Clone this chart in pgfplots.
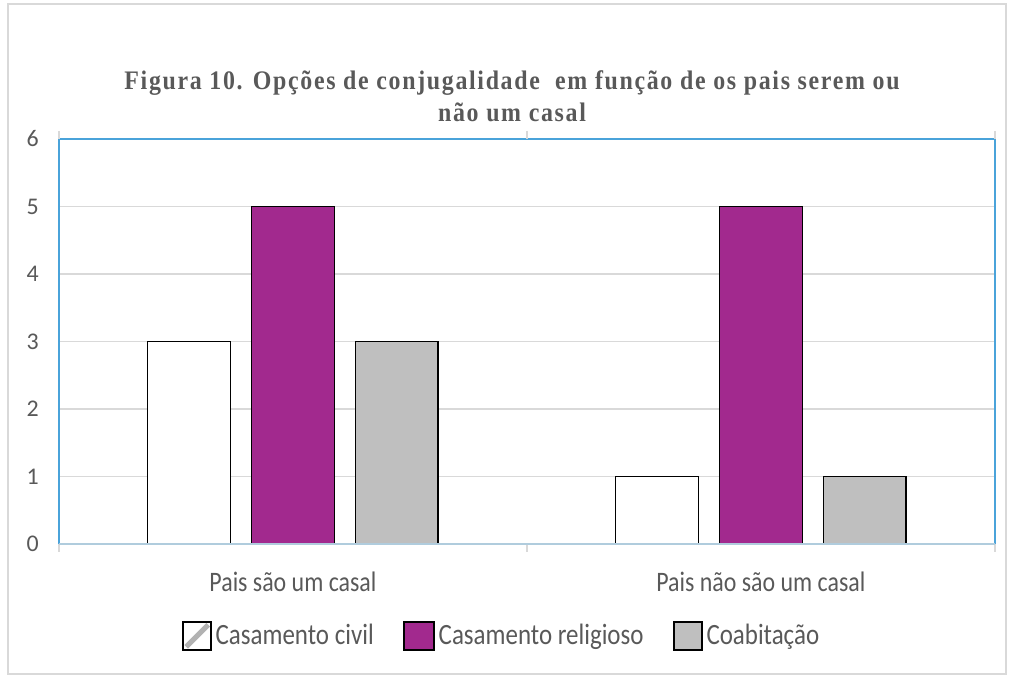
\documentclass[border=0pt]{standalone}
\usepackage{fontspec}
\setmainfont{Carlito}
\newfontfamily\titlefont{Liberation Serif}[LetterSpace=7]
\usepackage{pgfplots}
\pgfplotsset{compat=1.18}
\definecolor{txt}{HTML}{595959}
\definecolor{purp}{HTML}{A2298E}
\definecolor{gry}{HTML}{BFBFBF}
\definecolor{gridc}{HTML}{D9D9D9}
\definecolor{frameblue}{HTML}{4AA3DA}
\definecolor{baseblue}{HTML}{B0CCDD}
\newcommand{\vs}[1]{\scalebox{1}[1.18]{#1}}
\begin{document}
\begin{tikzpicture}
\begin{axis}[
  scale only axis,
  width=18.72cm, height=8.1cm,
  xmin=-0.5, xmax=1.5, ymin=0, ymax=6,
  ytick={0,1,2,3,4,5,6},
  ymajorgrids, grid style={draw=gridc, line width=0.8pt},
  xtick={0,1},
  xticklabels={\vs{Pais são um casal}, \vs{Pais não são um casal}},
  major tick length=0pt,
  extra x ticks={-0.5,0.5,1.5},
  extra x tick labels={},
  extra x tick style={major tick length=0.16cm, tick align=outside, tick style={draw=gridc, line width=0.8pt}, grid=none},
  axis line style={draw=frameblue, line width=0.9pt},
  /pgf/number format/assume math mode=true,
  tick label style={font=\fontsize{13.6}{16}\selectfont, text=txt},
  xticklabel style={anchor=center, yshift=-0.76cm},
  yticklabel style={xshift=-0.28cm},
  bar width=0.177,
  legend columns=3,
  legend style={draw=none, fill=none, at={(0.4739,-0.227)}, anchor=center,
    font=\fontsize{14.2}{16}\selectfont, text=txt,
    nodes={inner xsep=2pt},
    /tikz/every even column/.append style={column sep=0.52cm}},
  legend cell align=left,
]
\addplot[ybar, bar shift=-0.222, fill=white, draw=black, line width=0.85pt,
  legend image code/.code={\draw[black, line width=1.1pt, fill=white] (0cm,-0.28cm) rectangle (0.56cm,0.28cm);
  \draw[gray!60, line width=3pt] (0.06cm,-0.22cm) -- (0.5cm,0.22cm);}]
  coordinates {(0,3) (1,1)};
\addlegendentry{\vs{Casamento civil}}
\addplot[ybar, bar shift=0, fill=purp, draw=black, line width=0.85pt,
  legend image code/.code={\draw[black, line width=1.1pt, fill=purp] (0cm,-0.28cm) rectangle (0.6cm,0.28cm);}]
  coordinates {(0,5) (1,5)};
\addlegendentry{\vs{Casamento religioso}}
\addplot[ybar, bar shift=0.222, fill=gry, draw=black, line width=0.85pt,
  legend image code/.code={\draw[black, line width=1.1pt, fill=gry] (0cm,-0.28cm) rectangle (0.56cm,0.28cm);}]
  coordinates {(0,3) (1,1)};
\addlegendentry{\vs{Coabitação}}
\coordinate (bl) at (axis cs:-0.5,0);
\coordinate (br) at (axis cs:1.5,0);
\end{axis}
\draw[draw=baseblue, line width=1.4pt] (bl) -- (br);
\begin{scope}[x=0.02cm, y=-0.02cm, shift={(-1.18cm,10.88cm)}]
  \useasboundingbox (0,0) rectangle (1013,677);
  \draw[gridc, line width=1pt] (8,4) rectangle (1006,674);
  \node[align=center, text=txt, font=\titlefont\bfseries\fontsize{13.6}{18.2}\selectfont] at (512,96)
    {\scalebox{1}[1.12]{Figura 10. Opções de conjugalidade\ \ em função de os pais serem ou}\\\scalebox{1}[1.12]{não um casal}};
\end{scope}
\end{tikzpicture}
\end{document}
